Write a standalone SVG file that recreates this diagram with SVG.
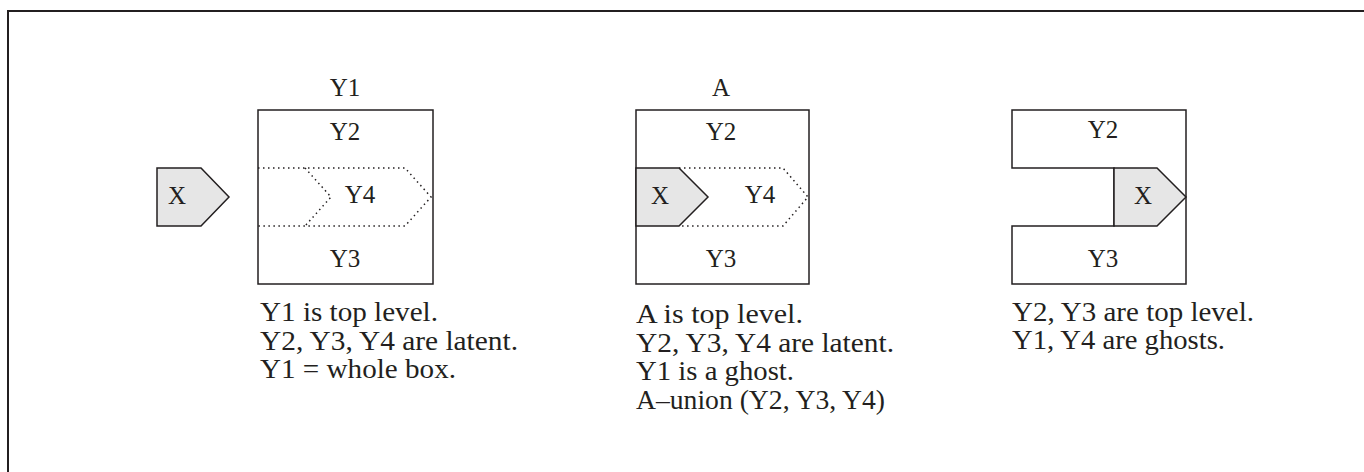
<svg xmlns="http://www.w3.org/2000/svg" width="1364" height="472" viewBox="0 0 1364 472">
<style>
.t{font-family:"Liberation Serif","Times New Roman",serif;font-size:25px;fill:#231f20}
.b{font-family:"Liberation Serif","Times New Roman",serif;font-size:27.5px;fill:#231f20}
.c{text-anchor:middle}
.box{fill:#fff;stroke:#231f20;stroke-width:1.5}
.xs{fill:#e6e6e6;stroke:#231f20;stroke-width:1.5;stroke-linejoin:miter}
.dot{fill:none;stroke:#231f20;stroke-width:1.5;stroke-dasharray:1.5 3.5}
</style>
<rect x="8" y="11" width="1400" height="500" fill="#fff" stroke="#231f20" stroke-width="2"/>

<g id="panel1">
  <text class="t c" x="345" y="96">Y1</text>
  <rect class="box" x="258" y="110" width="175" height="174"/>
  <path class="dot" d="M258,168 H405 L431,197 L405,226 H258 M305,168 L331,197 L305,226"/>
  <text class="t c" x="345" y="140">Y2</text>
  <text class="t c" x="360" y="203">Y4</text>
  <text class="t c" x="345" y="267">Y3</text>
  <g id="x1">
    <path class="xs" d="M157,168 H201 L229,197 L201,226 H157 Z"/>
    <text class="t c" x="177" y="204">X</text>
  </g>
  <text class="b" x="260" y="321" textLength="178" lengthAdjust="spacingAndGlyphs">Y1 is top level.</text>
  <text class="b" x="260" y="350" textLength="258" lengthAdjust="spacingAndGlyphs">Y2, Y3, Y4 are latent.</text>
  <text class="b" x="260" y="378" textLength="196" lengthAdjust="spacingAndGlyphs">Y1 = whole box.</text>
</g>

<g id="panel2">
  <text class="t c" x="721" y="96">A</text>
  <rect class="box" x="636" y="110" width="173" height="174"/>
  <path class="dot" d="M679,168 H783 L808,197 L783,226 H679"/>
  <text class="t c" x="721" y="140">Y2</text>
  <text class="t c" x="760" y="203">Y4</text>
  <text class="t c" x="721" y="267">Y3</text>
  <g id="x2">
    <path class="xs" d="M636,168 H679 L708,197 L679,226 H636 Z"/>
    <text class="t c" x="660" y="204">X</text>
  </g>
  <text class="b" x="636" y="323" textLength="167" lengthAdjust="spacingAndGlyphs">A is top level.</text>
  <text class="b" x="636" y="352" textLength="258" lengthAdjust="spacingAndGlyphs">Y2, Y3, Y4 are latent.</text>
  <text class="b" x="636" y="380" textLength="158" lengthAdjust="spacingAndGlyphs">Y1 is a ghost.</text>
  <text class="b" x="636" y="409" textLength="249" lengthAdjust="spacingAndGlyphs">A–union (Y2, Y3, Y4)</text>
</g>

<g id="panel3">
  <path class="box" d="M1012,168 V110 H1186 V284 H1012 V226 H1114 V168 Z"/>
  <text class="t c" x="1103" y="138">Y2</text>
  <text class="t c" x="1103" y="267">Y3</text>
  <g id="x3">
    <path class="xs" d="M1114,168 H1157 L1186,197 L1157,226 H1114 Z"/>
    <text class="t c" x="1143" y="204">X</text>
  </g>
  <text class="b" x="1012" y="321" textLength="242" lengthAdjust="spacingAndGlyphs">Y2, Y3 are top level.</text>
  <text class="b" x="1012" y="349" textLength="213" lengthAdjust="spacingAndGlyphs">Y1, Y4 are ghosts.</text>
</g>

<g id="connectors"></g>
</svg>
